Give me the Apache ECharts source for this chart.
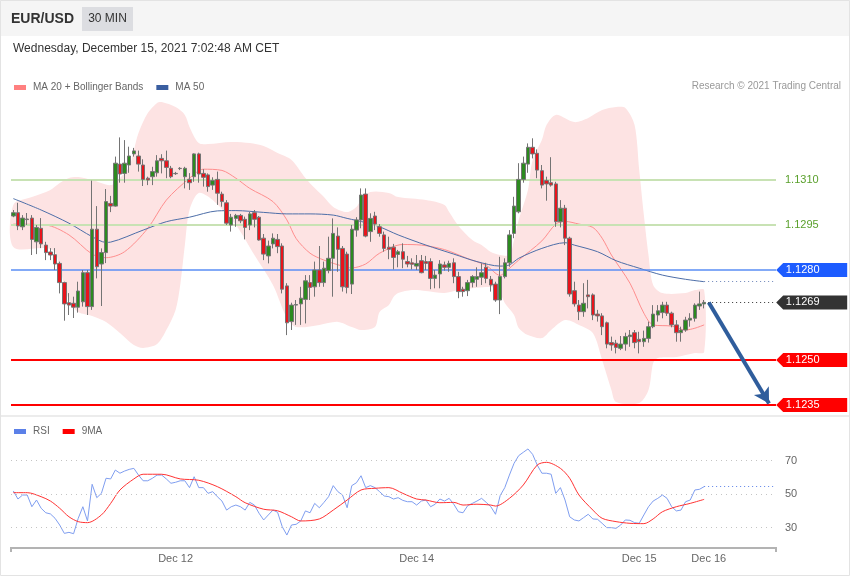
<!DOCTYPE html>
<html><head><meta charset="utf-8">
<script src="https://cdn.jsdelivr.net/npm/echarts/dist/echarts.min.js"></script>
<style>html,body{margin:0;padding:0;background:#fff}#c{width:850px;height:576px}</style>
</head><body><div id="c"></div>
<script>
// ---------- DATA ----------
const opens = [
1.12980,1.12991,1.12944,1.12970,1.12973,1.12894,1.12939,1.12883,1.12860,1.12851,
1.12822,1.12758,1.12691,1.12689,1.12676,1.12694,1.12791,1.12678,1.12936,1.12820,
1.12858,1.13022,1.13013,1.13153,1.13122,1.13150,1.13187,1.13180,1.13150,1.13106,
1.13111,1.13124,1.13172,1.13164,1.13139,1.13122,1.13139,1.13111,1.13102,1.13111,
1.13187,1.13122,1.13117,1.13083,1.13102,1.13053,1.13024,1.12950,1.12972,1.12982,
1.12969,1.12950,1.12991,1.12976,1.12906,1.12847,1.12887,1.12902,1.12880,1.12747,
1.12628,1.12683,1.12687,1.12702,1.12758,1.12744,1.12800,1.12758,1.12798,1.12839,
1.12913,1.12872,1.12853,1.12753,1.12933,1.12967,1.13053,1.12928,1.12980,1.12944,
1.12917,1.12876,1.12876,1.12852,1.12861,1.12828,1.12824,1.12813,1.12831,1.12828,
1.12828,1.12772,1.12787,1.12817,1.12809,1.12824,1.12778,1.12736,1.12731,1.12758,
1.12769,1.12776,1.12809,1.12769,1.12753,1.12700,1.12778,1.12824,1.12922,1.12994,
1.13102,1.13153,1.13209,1.13189,1.13131,1.13098,1.13091,1.13087,1.12961,1.13006,
1.12906,1.12731,1.12683,1.12661,1.12717,1.12717,1.12653,1.12647,1.12624,1.12558,
1.12556,1.12539,1.12553,1.12578,1.12591,1.12569,1.12561,1.12572,1.12611,1.12650,
1.12658,1.12683,1.12656,1.12617,1.12591,1.12600,1.12633,1.12639,1.12680,1.12687];
const closes = [
1.12991,1.12947,1.12973,1.12968,1.12902,1.12942,1.12887,1.12858,1.12850,1.12820,
1.12758,1.12687,1.12683,1.12676,1.12730,1.12791,1.12678,1.12936,1.12811,1.12858,
1.13028,1.13013,1.13156,1.13120,1.13156,1.13180,1.13197,1.13153,1.13102,1.13100,
1.13128,1.13164,1.13164,1.13142,1.13111,1.13121,1.13138,1.13139,1.13091,1.13187,
1.13120,1.13109,1.13078,1.13098,1.13056,1.13028,1.12956,1.12976,1.12982,1.12964,
1.12942,1.12987,1.12969,1.12900,1.12853,1.12880,1.12906,1.12878,1.12736,1.12624,
1.12683,1.12685,1.12706,1.12764,1.12742,1.12800,1.12758,1.12806,1.12839,1.12922,
1.12869,1.12744,1.12742,1.12936,1.12967,1.13050,1.12913,1.12972,1.12953,1.12922,
1.12872,1.12869,1.12842,1.12861,1.12836,1.12820,1.12819,1.12822,1.12791,1.12822,
1.12772,1.12783,1.12820,1.12809,1.12822,1.12778,1.12728,1.12728,1.12758,1.12778,
1.12778,1.12791,1.12772,1.12750,1.12700,1.12778,1.12824,1.12917,1.13013,1.13102,
1.13156,1.13209,1.13187,1.13133,1.13083,1.13087,1.13083,1.12961,1.13006,1.12906,
1.12720,1.12687,1.12661,1.12689,1.12711,1.12650,1.12647,1.12611,1.12553,1.12550,
1.12542,1.12553,1.12578,1.12583,1.12558,1.12561,1.12572,1.12611,1.12653,1.12664,
1.12683,1.12656,1.12617,1.12591,1.12600,1.12633,1.12639,1.12683,1.12687,1.12692];
const lows = [
1.12976,1.12933,1.12933,1.12950,1.12850,1.12853,1.12873,1.12833,1.12833,1.12800,
1.12722,1.12631,1.12650,1.12640,1.12658,1.12678,1.12650,1.12667,1.12772,1.12680,
1.12823,1.12993,1.13011,1.13091,1.13091,1.13124,1.13178,1.13128,1.13080,1.13083,
1.13083,1.13111,1.13122,1.13106,1.13106,1.13117,1.13133,1.13072,1.13067,1.13094,
1.13091,1.13078,1.13061,1.13067,1.13017,1.13011,1.12950,1.12928,1.12944,1.12956,
1.12902,1.12933,1.12942,1.12898,1.12833,1.12822,1.12872,1.12856,1.12722,1.12583,
1.12600,1.12617,1.12617,1.12622,1.12700,1.12711,1.12744,1.12744,1.12789,1.12711,
1.12794,1.12728,1.12722,1.12720,1.12911,1.12939,1.12909,1.12894,1.12933,1.12911,
1.12861,1.12836,1.12802,1.12809,1.12806,1.12809,1.12802,1.12800,1.12789,1.12800,
1.12736,1.12739,1.12739,1.12798,1.12794,1.12756,1.12706,1.12711,1.12713,1.12742,
1.12744,1.12750,1.12756,1.12728,1.12694,1.12653,1.12772,1.12811,1.12906,1.12989,
1.13091,1.13124,1.13172,1.13106,1.13072,1.13031,1.13078,1.12944,1.12942,1.12883,
1.12711,1.12678,1.12633,1.12644,1.12672,1.12633,1.12628,1.12583,1.12539,1.12531,
1.12522,1.12533,1.12531,1.12544,1.12539,1.12522,1.12544,1.12558,1.12606,1.12628,
1.12639,1.12647,1.12609,1.12561,1.12561,1.12594,1.12611,1.12628,1.12667,1.12672];
const highs = [
1.13000,1.13024,1.12983,1.12990,1.12983,1.12950,1.12973,1.12894,1.12873,1.12873,
1.12828,1.12761,1.12723,1.12711,1.12761,1.12800,1.12800,1.13098,1.13013,1.12872,
1.13070,1.13047,1.13178,1.13242,1.13233,1.13211,1.13207,1.13198,1.13169,1.13111,
1.13144,1.13183,1.13186,1.13198,1.13147,1.13127,1.13143,1.13144,1.13123,1.13189,
1.13191,1.13136,1.13122,1.13109,1.13128,1.13061,1.13033,1.12987,1.12987,1.12987,
1.12978,1.12994,1.13000,1.12980,1.12920,1.12898,1.12922,1.12920,1.12889,1.12756,
1.12691,1.12700,1.12744,1.12783,1.12783,1.12828,1.12880,1.12828,1.12911,1.12972,
1.12942,1.12880,1.12861,1.12950,1.12976,1.13072,1.13072,1.12989,1.12994,1.12953,
1.12928,1.12911,1.12887,1.12867,1.12889,1.12847,1.12839,1.12850,1.12850,1.12847,
1.12839,1.12800,1.12833,1.12828,1.12831,1.12839,1.12794,1.12744,1.12767,1.12783,
1.12809,1.12822,1.12824,1.12780,1.12761,1.12844,1.12839,1.12933,1.13044,1.13156,
1.13178,1.13222,1.13239,1.13202,1.13150,1.13111,1.13176,1.13094,1.13033,1.13017,
1.12911,1.12761,1.12700,1.12756,1.12767,1.12722,1.12667,1.12656,1.12628,1.12578,
1.12567,1.12580,1.12591,1.12600,1.12600,1.12594,1.12598,1.12628,1.12683,1.12683,
1.12694,1.12694,1.12661,1.12633,1.12611,1.12644,1.12656,1.12689,1.12728,1.12700];

// Bollinger band envelope (candle index, price)
const upperIdx = [0,4,8,10,12,14,17,21,23,25,26,27,29,31,32,35,37,38,40,42,47,51,54,57,60,63,65,67,69,72,74,75,77,81,83,89,93,94,96,99,101,103,105,107,108,109,111,112,114,115,117,121,124,127,130,132,134,135,136,137,138,140,145,147,149];
const upperVal = [1.13017,1.13043,1.13067,1.13090,1.13107,1.13110,1.13100,1.13083,1.13107,1.13143,1.13200,1.13257,1.13323,1.13357,1.13360,1.13343,1.13317,1.13277,1.13223,1.13220,1.13227,1.13223,1.13213,1.13190,1.13167,1.13107,1.13073,1.13043,1.13010,1.12993,1.13010,1.13033,1.13060,1.13057,1.13043,1.13033,1.13017,1.12993,1.12947,1.12900,1.12883,1.12860,1.12850,1.12850,1.12900,1.12967,1.13067,1.13167,1.13233,1.13283,1.13317,1.13293,1.13307,1.13333,1.13343,1.13340,1.13283,1.13133,1.12983,1.12850,1.12750,1.12723,1.12723,1.12733,1.12733];
const lowerIdx = [0,7,9,10,12,14,17,20,23,26,28,31,33,35,36,37,38,40,43,48,52,56,59,61,66,70,73,75,78,79,81,82,83,86,89,93,96,102,104,105,106,108,109,111,114,116,119,122,125,127,129,130,135,137,138,139,143,147,149];
const lowerVal = [1.12877,1.12873,1.12860,1.12807,1.12700,1.12660,1.12647,1.12627,1.12590,1.12550,1.12540,1.12553,1.12600,1.12667,1.12750,1.12883,1.13000,1.13057,1.13033,1.12950,1.12850,1.12750,1.12640,1.12610,1.12617,1.12627,1.12610,1.12600,1.12610,1.12660,1.12683,1.12710,1.12723,1.12733,1.12730,1.12723,1.12733,1.12743,1.12740,1.12723,1.12690,1.12650,1.12607,1.12583,1.12573,1.12600,1.12633,1.12617,1.12590,1.12500,1.12400,1.12360,1.12357,1.12400,1.12490,1.12507,1.12510,1.12523,1.12527];

const ma20Idx = [0,7,12,17,20,24,29,33,38,41,45,48,51,56,59,61,64,67,71,73,76,79,84,88,93,98,102,105,106,109,114,117,119,122,125,127,129,133,136,138,142,145,147,149];
const ma20Val = [1.12953,1.12950,1.12917,1.12853,1.12841,1.12861,1.12939,1.13033,1.13106,1.13136,1.13132,1.13106,1.13072,1.13028,1.12967,1.12905,1.12856,1.12833,1.12813,1.12807,1.12820,1.12856,1.12885,1.12883,1.12868,1.12838,1.12815,1.12782,1.12792,1.12833,1.12897,1.12953,1.12962,1.12953,1.12942,1.12906,1.12850,1.12756,1.12656,1.12617,1.12613,1.12600,1.12606,1.12617];
const ma50Idx = [0,6,12,17,20,21,28,33,38,44,48,54,59,64,69,72,76,79,83,89,95,100,105,107,109,114,119,121,126,130,135,140,145,149];
const ma50Val = [1.13038,1.13000,1.12956,1.12911,1.12892,1.12893,1.12933,1.12961,1.12976,1.12997,1.12998,1.12992,1.12987,1.12987,1.12983,1.12972,1.12958,1.12944,1.12917,1.12883,1.12853,1.12828,1.12813,1.12817,1.12839,1.12872,1.12891,1.12883,1.12861,1.12831,1.12806,1.12783,1.12769,1.12761];

const rsi = [
51.8,47.0,49.4,49.4,42.4,46.4,41.5,38.8,38.1,35.5,
31.5,26.5,27.1,26.3,35.5,42.4,33.9,55.8,47.8,50.4,
59.4,59.0,64.3,62.4,63.7,64.7,65.3,61.3,57.9,57.9,
59.4,61.3,61.3,59.0,56.4,57.0,57.9,57.9,53.8,60.3,
53.8,53.8,50.4,51.4,48.4,45.8,40.4,42.4,43.4,42.4,
40.4,45.0,43.4,38.5,34.5,37.5,40.4,39.1,30.5,25.5,
31.5,31.9,33.9,39.9,38.8,44.4,41.8,45.0,48.4,55.0,
51.4,49.4,41.8,55.0,56.7,60.9,53.8,55.0,53.8,51.4,
48.8,48.4,47.0,47.8,46.2,45.4,45.4,43.4,45.8,46.4,
42.4,43.9,47.0,45.8,47.4,43.9,39.4,38.8,43.0,44.4,
45.8,47.4,45.0,42.4,37.9,49.0,53.8,61.3,68.3,72.9,
74.9,76.9,73.7,67.3,62.4,62.4,61.8,50.4,53.8,46.4,
36.4,34.5,33.9,35.9,37.9,35.1,34.9,32.5,29.9,29.9,
29.5,31.5,34.5,34.3,32.9,32.5,37.5,42.4,45.8,47.4,
49.4,47.4,42.4,39.9,40.4,45.4,46.4,52.4,52.8,54.4];
const rsiMaIdx = [0,3,6,8,10,12,14,16,19,21,23,26,28,32,36,40,44,48,50,54,57,60,62,66,69,72,75,78,81,84,87,89,92,95,97,100,103,104,107,110,113,115,118,120,122,125,127,130,133,136,138,140,143,146,149];
const rsiMaVal = [50.8,50.8,48.4,45.8,41.5,36.4,33.5,32.9,37.5,44.4,52.4,59.0,61.8,61.8,59.0,58.2,54.4,48.4,44.8,40.9,40.0,36.4,33.9,35.1,40.4,46.4,52.4,53.4,53.8,50.4,47.0,46.4,44.8,45.0,43.4,43.9,43.4,42.8,47.4,55.4,67.3,68.9,65.3,59.4,49.4,40.4,35.5,33.5,32.5,32.3,35.1,39.4,42.4,44.4,46.8];

const resistLevels = [1.1310, 1.1295];
const blueLevel = 1.1280;
const supportLevels = [1.1250, 1.1235];
const lastPriceLabel = '1.1269';
const arrowTarget = 1.12355;
const rsiLevels = [30, 50, 70];
const tickLabels = [{i:35,t:'Dec 12'},{i:87,t:'Dec 14'},{i:135,t:'Dec 15'},{i:150,t:'Dec 16'}];
const N_SLOTS = 165;

// ---------- BUILD ----------
const n = opens.length;
const last = n - 1, endSlot = N_SLOTS - 1;
const categories = Array.from({length:N_SLOTS}, (_, i) => String(i));
const labelAt = {}; tickLabels.forEach(d => labelAt[d.i] = d.t);
const candles = opens.map((o, i) => [o, closes[i], lows[i], highs[i]]);
const sparse = (idx, val) => { const a = new Array(n).fill(null); idx.forEach((k, j) => a[k] = val[j]); return a; };
const FONT = '"Liberation Sans", Arial, sans-serif';
const tagPath = 'path://M0,7L7,0L71,0L71,14L7,14Z';
const mkTag = (v, txt, col) => ({coord:[endSlot, v], itemStyle:{color:col}, label:{formatter: txt}});

const chart = echarts.init(document.getElementById('c'), null, {renderer:'canvas'});
chart.setOption({
  animation:false,
  backgroundColor:'#fff',
  textStyle:{fontFamily:FONT},
  grid:[
    {left:11, width:765, top:96, height:315},
    {left:11, width:765, top:440.4, height:107.2}
  ],
  xAxis:[
    {type:'category', gridIndex:0, data:categories, boundaryGap:true, show:false},
    {type:'category', gridIndex:1, data:categories, boundaryGap:true,
     axisLine:{show:true, lineStyle:{color:'#b3b3b3', width:2}},
     axisTick:{show:false}, splitLine:{show:false},
     axisLabel:{interval:0, margin:6, color:'#666', fontSize:11, fontFamily:FONT,
       formatter:(v, i) => labelAt[i] || ''}}
  ],
  yAxis:[
    {type:'value', gridIndex:0, min:1.1233, max:1.1338, show:false},
    {type:'value', gridIndex:1, min:18, max:82, show:false}
  ],
  legend:[
    {left:9, top:77.5, icon:'rect', itemWidth:12, itemHeight:5, itemGap:13, selectedMode:false,
     textStyle:{color:'#666', fontSize:10, fontFamily:FONT, padding:[0,0,0,2]},
     data:[{name:'MA 20 + Bollinger Bands', itemStyle:{color:'#ff8080'}}, {name:'MA 50', itemStyle:{color:'#3a5ea0'}}]},
    {left:9, top:421.5, icon:'rect', itemWidth:12, itemHeight:5, itemGap:13, selectedMode:false,
     textStyle:{color:'#666', fontSize:10, fontFamily:FONT, padding:[0,0,0,2]},
     data:[{name:'RSI', itemStyle:{color:'#5b80e8'}}, {name:'9MA', itemStyle:{color:'#ff0000'}}]}
  ],
  graphic:[
    {type:'rect', z:0, shape:{x:0,y:0,width:850,height:36}, style:{fill:'#f5f5f5'}},
    {type:'rect', z:1, shape:{x:82,y:7,width:51,height:24}, style:{fill:'#dcdde1'}},
    {type:'text', z:2, x:11, y:19, style:{text:'EUR/USD', font:'bold 14px '+FONT, fill:'#333', textVerticalAlign:'middle'}},
    {type:'text', z:2, x:107.5, y:19, style:{text:'30 MIN', font:'12px '+FONT, fill:'#333', textAlign:'center', textVerticalAlign:'middle'}},
    {type:'text', z:2, x:13, y:49, style:{text:'Wednesday, December 15, 2021 7:02:48 AM CET', font:'12px '+FONT, fill:'#333', textVerticalAlign:'middle'}},
    {type:'text', z:2, x:841, y:86.5, style:{text:'Research \u00a9 2021 Trading Central', font:'10px '+FONT, fill:'#999', textAlign:'right', textVerticalAlign:'middle'}},
    {type:'rect', z:2, shape:{x:0,y:415,width:850,height:2}, style:{fill:'#ececec'}},
    {type:'line', z:2, shape:{x1:11,y1:547,x2:11,y2:552}, style:{stroke:'#b3b3b3', lineWidth:2}},
    {type:'line', z:2, shape:{x1:776,y1:547,x2:776,y2:552}, style:{stroke:'#b3b3b3', lineWidth:2}},
    {type:'rect', z:2, shape:{x:0.5,y:0.5,width:849,height:575}, style:{fill:null, stroke:'#e3e3e3', lineWidth:1}}
  ],
  series:[
    {type:'custom', name:'band', xAxisIndex:0, yAxisIndex:0, silent:true, z:1, data:[[0, upperVal[0]]],
     renderItem:(params, api) => {
       const pts = [];
       upperIdx.forEach((k, j) => pts.push(api.coord([k, upperVal[j]])));
       for (let j = lowerIdx.length - 1; j >= 0; j--) pts.push(api.coord([lowerIdx[j], lowerVal[j]]));
       return {type:'polygon', shape:{points:pts, smooth:0.3}, style:{fill:'#fde3e3'}};
     }},
    {type:'line', name:'MA 20 + Bollinger Bands', xAxisIndex:0, yAxisIndex:0, z:3,
     data:sparse(ma20Idx, ma20Val), connectNulls:true, smooth:0.3, symbol:'none',
     itemStyle:{color:'#ff8080'}, lineStyle:{color:'#ff8e8e', width:1}},
    {type:'line', name:'MA 50', xAxisIndex:0, yAxisIndex:0, z:3,
     data:sparse(ma50Idx, ma50Val), connectNulls:true, smooth:0.3, symbol:'none',
     itemStyle:{color:'#3a5ea0'}, lineStyle:{color:'#4d6ea8', width:1},
     markLine:{silent:true, symbol:['none','none'], precision:5,
       label:{show:false},
       data:[
         ...resistLevels.map(v => ({yAxis:v, lineStyle:{color:'#c8e2b4', width:2, type:'solid'},
            label:{show:true, position:'end', distance:9, color:'#5aa02c', fontSize:11, fontFamily:FONT, formatter:v.toFixed(4)}})),
         {yAxis:blueLevel, lineStyle:{color:'#5a8ef5', width:1.5, type:'solid'}},
         ...supportLevels.map(v => ({yAxis:v, lineStyle:{color:'#ff0000', width:2, type:'solid'}})),
         [{coord:[last, ma50Val[ma50Val.length-1]], lineStyle:{color:'#6b84b8', width:1, type:[1,3]}}, {coord:[endSlot, ma50Val[ma50Val.length-1]]}],
         [{coord:[last, closes[last]], lineStyle:{color:'#333', width:1, type:[1,3]}}, {coord:[endSlot, closes[last]]}],
         [{coord:[last+1, closes[last]], lineStyle:{color:'#2f5d9c', width:4, type:'solid'}},
          {coord:[endSlot-1, arrowTarget], symbol:'arrow', symbolSize:[13,15]}]
       ]},
     markPoint:{silent:true, symbol:tagPath, symbolSize:[71,14], symbolOffset:[38,0],
       label:{show:true, position:'inside', color:'#fff', fontSize:11, fontFamily:FONT, offset:[-9,0]},
       data:[
         mkTag(blueLevel, blueLevel.toFixed(4), '#1d5cff'),
         mkTag(closes[last], lastPriceLabel, '#333333'),
         ...supportLevels.map(v => mkTag(v, v.toFixed(4), '#ff0000'))
       ]}},
    {type:'candlestick', name:'EUR/USD', xAxisIndex:0, yAxisIndex:0, z:5, barWidth:4,
     data:candles,
     itemStyle:{color:'#2c8a1f', color0:'#e8141c', borderColor:'#747474', borderColor0:'#747474', borderWidth:1}},
    {type:'line', name:'RSI', xAxisIndex:1, yAxisIndex:1, z:3, data:rsi, symbol:'none',
     itemStyle:{color:'#5b80e8'}, lineStyle:{color:'#7f9ef0', width:1},
     markLine:{silent:true, symbol:['none','none'],
       data:[
         ...rsiLevels.map(v => ({yAxis:v, lineStyle:{color:'#c4c4c4', width:1, type:[1,4]},
            label:{show:true, position:'end', distance:9, color:'#666', fontSize:11, fontFamily:FONT, formatter:String(v)}})),
         [{coord:[last, rsi[last]], lineStyle:{color:'#5b80e8', width:1, type:[1,3]}, label:{show:false}}, {coord:[endSlot, rsi[last]]}]
       ]}},
    {type:'line', name:'9MA', xAxisIndex:1, yAxisIndex:1, z:4, data:sparse(rsiMaIdx, rsiMaVal),
     connectNulls:true, smooth:0.3, symbol:'none',
     itemStyle:{color:'#ff0000'}, lineStyle:{color:'#ff3333', width:1}}
  ]
});
</script></body></html>
